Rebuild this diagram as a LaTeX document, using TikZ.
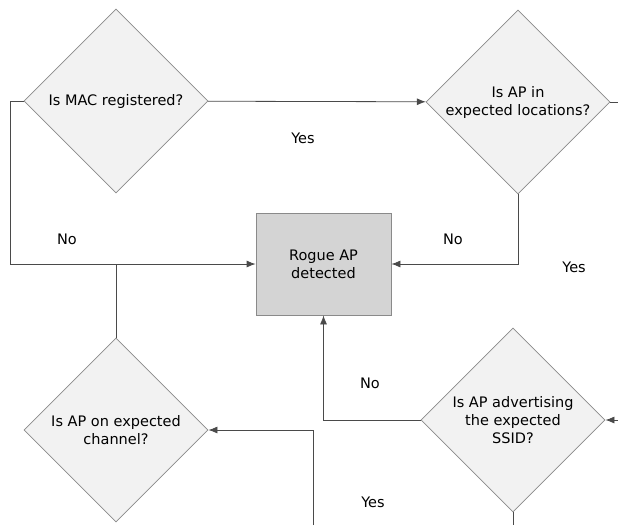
\documentclass[tikz,border=0pt]{standalone}
\usepackage{fontspec}
\setmainfont{DejaVu Sans}
\usetikzlibrary{shapes.geometric,arrows.meta}
\definecolor{linegray}{HTML}{4A4A4A}
\definecolor{edgegray}{HTML}{8A8A8A}
\definecolor{lightfill}{HTML}{F2F2F2}
\definecolor{boxfill}{HTML}{D4D4D4}
\tikzset{
  question/.style={diamond,draw=edgegray,fill=lightfill,line width=0.8pt,
    aspect=1,minimum width=184pt,minimum height=184pt,inner sep=0pt,
    align=center,font=\fontsize{14.5}{18}\selectfont},
  outcome/.style={rectangle,draw=edgegray,fill=boxfill,line width=0.8pt,
    minimum width=135pt,minimum height=102pt,align=center,
    font=\fontsize{14.5}{18}\selectfont},
  answer/.style={font=\fontsize{14.5}{18}\selectfont},
  flow/.style={draw=linegray,line width=0.8pt},
  tip/.style={-{Latex[length=9pt,width=7pt]}}
}
\begin{document}
\begin{tikzpicture}[x=1pt,y=-1pt]
  \useasboundingbox (0,0) rectangle (618,525);
  \draw
    (116,101) node[question] (mac){Is MAC registered?}
    (518,102) node[question] (loc){Is AP in\\expected locations?}
    (116,430) node[question] (chan){Is AP on expected\\channel?}
    (513,420) node[question] (ssid){Is AP advertising\\the expected\\SSID?}
    (323.5,264) node[outcome] (rogue){Rogue AP\\detected};
  \coordinate (locout) at (618,102);
  \coordinate (ssidin) at (618,420);
  \coordinate (ssidout) at (513,525);
  \coordinate (chanin) at (313,525);
  \coordinate (macbend) at (10,101);
  % answers
  \node[answer] (yesmac) at (303,138) {Yes};
  \node[answer] (nomac) at (67,239) {No};
  \node[answer] (noloc) at (453,239) {No};
  \node[answer] (yesloc) at (574,267) {Yes};
  \node[answer] (nossid) at (370,383) {No};
  \node[answer] (yesssid) at (373,502) {Yes};
  \begin{scope}[flow]
    \draw[tip] (mac) to (loc);
    \draw[tip] (mac.west) -- (macbend) |- (rogue.west);
    \draw (chan.north) -- (chan.north |- rogue.west);
    \draw[tip] (loc.south) |- (rogue.east);
    \draw (loc.east) -- (locout);
    \draw[tip] (ssidin) -- (ssid.east);
    \draw[tip] (ssid.west) -| (rogue.south);
    \draw (ssid.south) -- (ssidout);
    \draw[tip] (chanin) |- (chan.east);
  \end{scope}
\end{tikzpicture}
\end{document}
